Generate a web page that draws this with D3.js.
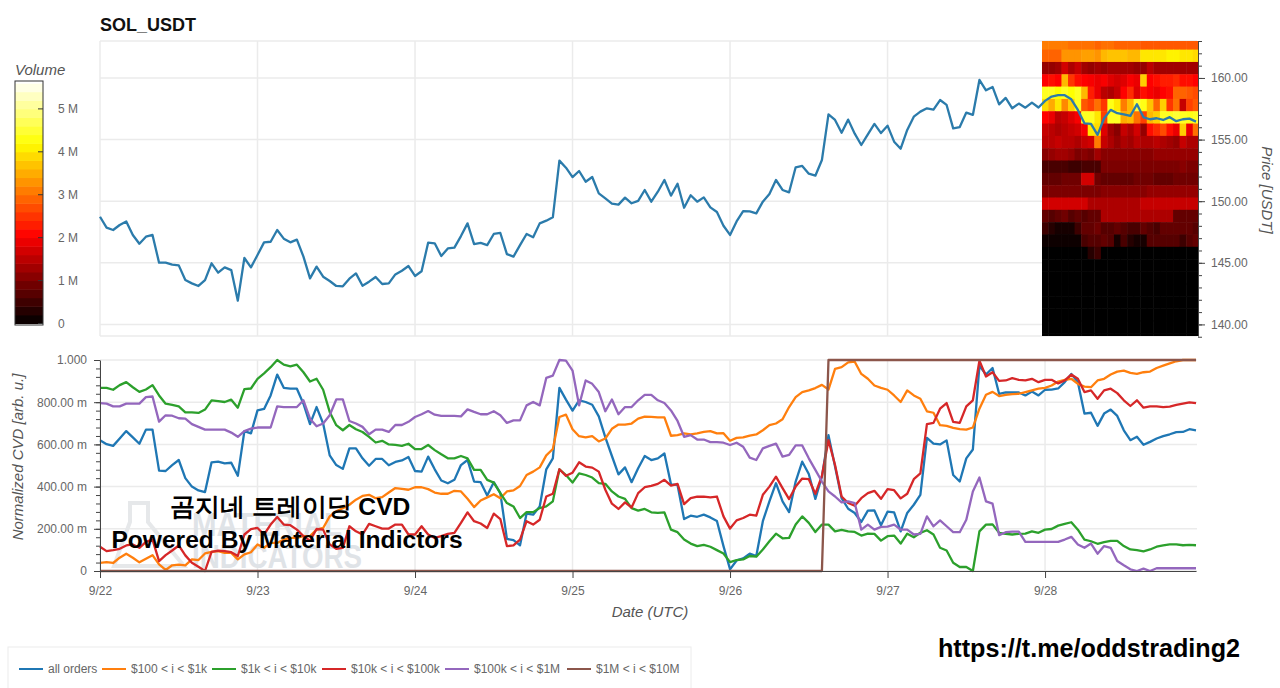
<!DOCTYPE html>
<html>
<head>
<meta charset="utf-8">
<script src="https://d3js.org/d3.v7.min.js"></script>
<style>
  html, body { margin: 0; padding: 0; background: #fff; overflow: hidden; }
  text { font-family: "Liberation Sans", Arial, sans-serif; }
  .tick text { fill: #666; font-size: 12px; font-family: "Liberation Sans", Arial, sans-serif; }
  .tick line, .domain { stroke: #444; }
  .axis-title { fill: #555; font-size: 15px; font-style: italic; }
  .grid line { stroke: #ebebeb; stroke-width: 1.5; }
</style>
</head>
<body>
<svg id="chart" width="1280" height="688"></svg>
<script>
// Hours since 9/22 00:00 UTC where each day starts
const dayHours = [0, 24, 48, 72, 96, 120, 144];
const dayLabels = ["9/22", "9/23", "9/24", "9/25", "9/26", "9/27", "9/28"];

const priceTicks = [140, 145, 150, 155, 160];
const priceMinorTicks = [139, 140, 141, 142, 143, 144, 145, 146, 147, 148, 149, 150, 151, 152, 153, 154, 155, 156, 157, 158, 159, 160, 161, 162, 163];
const cvdTicks = [0, 200, 400, 600, 800, 1000];
const cvdMinorTicks = [0, 40, 80, 120, 160, 200, 240, 280, 320, 360, 400, 440, 480, 520, 560, 600, 640, 680, 720, 760, 800, 840, 880, 920, 960, 1000];
const volumeTicks = [0, 1, 2, 3, 4, 5];

// Hourly close price
const price = [
  148.74,147.85,147.66,148.07,148.36,147.26,146.55,147.12,147.26,145.01,
  145.01,144.85,144.79,143.60,143.33,143.12,143.60,144.96,144.20,144.63,
  144.41,141.93,145.39,144.63,145.63,146.66,146.71,147.66,146.96,146.66,
  146.88,145.50,143.74,144.69,143.87,143.52,143.12,143.09,143.71,144.14,
  143.14,143.47,143.85,143.28,143.33,144.06,144.36,144.74,143.93,144.31,
  146.63,146.58,145.55,146.17,146.23,147.17,148.20,146.52,146.61,146.44,
  147.34,147.42,145.71,145.50,146.44,147.34,147.07,148.20,148.42,148.69,
  153.29,152.72,151.96,152.45,151.58,151.96,150.64,150.23,149.80,149.72,
  150.29,149.83,150.02,150.91,149.96,150.77,151.72,150.45,151.42,149.47,
  150.48,149.96,150.31,149.50,149.12,148.01,147.26,148.36,149.20,149.18,
  149.01,149.96,150.58,151.72,150.91,150.72,152.75,152.86,152.23,152.07,
  153.34,157.05,156.59,155.56,156.62,155.48,154.56,155.43,156.27,155.53,
  156.13,154.83,154.26,155.78,156.86,157.27,157.54,157.43,158.21,157.81,
  155.91,156.02,157.19,157.00,159.84,159.00,159.27,157.86,158.38,157.54,
  157.92,157.59,158.00,157.60,158.14,158.49,158.60,158.60,158.27,157.41,
  156.32,156.27,155.38,156.73,157.41,157.14,157.05,156.92,157.87,156.81,
  156.65,156.73,156.59,156.82,156.49,156.65,156.70,156.46
];

// Normalized CVD in milli units, one array per order size
const allOrders = [
  620,601,593,628,663,633,603,670,670,476,
  474,502,526,440,400,382,374,515,518,510,
  513,451,663,652,761,768,832,931,868,864,
  864,793,696,777,699,548,502,484,581,581,
  534,499,531,531,501,517,524,540,474,471,
  542,482,429,416,432,502,526,424,421,358,
  421,369,152,146,122,272,267,306,482,534,
  868,812,760,809,801,788,733,633,545,458,
  491,421,487,545,526,534,557,411,408,246,
  262,257,267,254,237,118,8,50,60,82,
  71,236,330,416,330,279,424,518,460,342,
  447,644,495,345,295,275,232,286,287,217,
  281,278,188,275,314,361,631,604,600,619,
  455,424,534,576,973,931,962,840,846,846,
  846,832,851,832,859,860,865,895,934,895,
  746,750,688,746,765,735,667,620,636,598,
  612,628,639,648,658,659,672,667
];
const orders100to1k = [
  39,42,38,63,82,63,41,58,75,31,
  5,27,30,27,55,52,83,91,94,86,
  86,55,79,89,126,110,133,133,149,157,
  157,165,165,196,204,259,283,298,314,338,
  356,361,345,350,372,393,389,385,397,397,
  388,372,366,366,380,377,342,303,334,349,
  364,345,377,382,403,455,471,491,548,578,
  730,741,672,639,633,639,614,628,674,694,
  694,699,722,732,730,728,728,641,644,652,
  648,652,659,663,652,653,617,631,633,642,
  647,667,691,699,719,777,824,848,856,867,
  882,860,958,966,989,992,934,911,879,868,
  859,832,801,856,832,816,757,750,691,688,
  678,672,670,680,769,835,849,829,835,838,
  840,848,856,864,868,879,898,906,911,887,
  874,871,903,911,931,945,950,939,934,942,
  945,962,973,984,994,1000,1000,1000
];
const orders1kto10k = [
  868,868,859,881,895,871,849,860,881,832,
  793,787,780,752,752,749,765,809,805,801,
  812,774,862,865,911,937,966,1000,978,970,
  978,942,898,911,859,754,691,667,692,672,
  659,636,609,617,600,598,593,603,578,578,
  597,573,553,534,534,545,534,479,479,432,
  419,369,322,306,251,279,279,298,306,330,
  482,455,419,463,455,443,416,413,377,353,
  342,298,286,294,278,275,278,196,184,149,
  130,118,124,115,99,83,42,52,55,71,
  68,102,141,177,155,157,220,259,228,185,
  220,220,188,195,188,185,168,177,176,144,
  165,168,130,177,160,181,193,173,110,97,
  39,19,19,0,188,220,221,181,176,173,
  176,177,188,181,196,199,215,223,231,196,
  149,141,129,137,143,143,118,102,99,93,
  102,115,121,126,126,122,124,122
];
const orders10kto100k = [
  115,94,99,105,121,126,110,138,149,47,
  75,97,121,74,39,20,0,91,97,94,
  89,71,173,199,204,173,220,256,220,217,
  196,165,144,199,196,126,105,110,212,188,
  173,223,212,201,201,220,220,173,173,212,
  173,157,165,176,181,228,278,236,225,204,
  272,246,118,121,149,236,220,243,353,366,
  482,451,466,515,495,490,471,385,319,294,
  325,301,369,397,403,413,432,405,413,317,
  345,352,352,349,353,259,201,240,251,267,
  262,361,400,447,393,341,400,438,435,366,
  451,620,502,353,322,309,345,369,380,342,
  388,383,344,366,435,463,696,702,769,796,
  707,702,780,809,997,922,942,901,903,914,
  906,903,911,895,906,906,889,903,931,911,
  848,856,816,856,864,843,809,782,809,774,
  780,780,777,779,787,793,799,796
];
const orders100kto1M = [
  796,793,780,780,793,793,793,824,827,708,
  738,736,724,722,696,683,670,670,670,670,
  656,636,663,675,680,680,680,780,777,777,
  777,809,722,686,699,738,813,813,711,699,
  683,648,670,670,659,692,692,707,730,743,
  758,741,735,735,735,733,766,754,743,743,
  757,738,702,714,714,785,801,785,915,926,
  1000,997,950,785,903,887,848,757,813,743,
  777,777,809,835,835,809,796,761,711,636,
  644,623,623,611,611,608,597,608,589,537,
  526,581,593,604,542,550,595,595,534,479,
  424,377,353,325,330,322,196,220,196,209,
  210,220,196,196,173,176,259,212,240,212,
  184,184,243,377,443,330,319,170,184,187,
  187,138,138,138,138,138,138,149,162,126,
  110,130,82,118,110,47,27,8,0,11,
  0,13,13,13,13,13,13,13
];
const orders1Mto10M = [
  0,0,0,0,0,0,0,0,0,0,
  0,0,0,0,0,0,0,0,0,0,
  0,0,0,0,0,0,0,0,0,0,
  0,0,0,0,0,0,0,0,0,0,
  0,0,0,0,0,0,0,0,0,0,
  0,0,0,0,0,0,0,0,0,0,
  0,0,0,0,0,0,0,0,0,0,
  0,0,0,0,0,0,0,0,0,0,
  0,0,0,0,0,0,0,0,0,0,
  0,0,0,0,0,0,0,0,0,0,
  0,0,0,0,0,0,0,0,0,0,
  0,1000,1000,1000,1000,1000,1000,1000,1000,1000,
  1000,1000,1000,1000,1000,1000,1000,1000,1000,1000,
  1000,1000,1000,1000,1000,1000,1000,1000,1000,1000,
  1000,1000,1000,1000,1000,1000,1000,1000,1000,1000,
  1000,1000,1000,1000,1000,1000,1000,1000,1000,1000,
  1000,1000,1000,1000,1000,1000,1000,1000
];

const cvdNames = ["all orders", "$100 < i < $1k", "$1k < i < $10k", "$10k < i < $100k", "$100k < i < $1M", "$1M < i < $10M"];
const cvdSeries = [allOrders, orders100to1k, orders1kto10k, orders10kto100k, orders100kto1M, orders1Mto10M];
const cvdColors = ["#1f77b4", "#ff7f0e", "#2ca02c", "#d62728", "#9467bd", "#8c564b"];

// Order book heatmap, volume in millions. Columns are the hours of 9/28
const heatHours = [144,145,146,147,148,149,150,151,152,153,154,155,156,157,158,159,160,161,162,163,164,165,166,167];
const heatPrices = [162.8,161.8,160.8,159.8,158.8,157.8,156.8,155.8,154.8,153.8,152.8,151.8,150.8,149.8,148.8,147.8,146.8,145.8,144.8,143.8,142.8,141.8,140.8,139.8,138.8];
const heatVolumes = [
  [3.1,3.1,3.1,3.1,3.0,3.0,3.0,3.0,2.9,3.0,3.0,2.9,2.9,2.9,2.9,2.8,2.8,2.8,2.8,2.8,2.8,2.8,2.8,2.8],
  [2.9,2.9,2.9,3.3,3.3,3.3,3.4,3.4,3.3,3.6,3.7,3.7,3.7,3.6,3.6,4.0,4.0,4.0,4.0,4.1,4.1,4.0,4.0,3.9],
  [1.2,1.2,1.3,1.7,1.4,1.6,1.3,1.2,1.3,1.2,1.3,1.3,1.3,1.3,1.2,1.2,1.5,1.3,1.3,1.3,1.3,1.3,1.3,1.3],
  [2.1,2.2,2.1,3.6,2.5,2.2,2.1,2.0,1.9,2.0,1.8,1.7,1.8,2.0,1.9,3.8,2.1,2.2,2.3,2.3,2.4,2.2,2.2,2.1],
  [4.4,4.4,4.2,4.4,4.2,4.4,3.6,2.3,1.9,1.5,1.4,1.6,2.1,2.4,1.8,2.2,2.0,1.9,2.1,2.2,2.9,2.9,2.8,2.7],
  [3.9,3.5,4.0,3.2,3.8,4.4,2.8,2.6,3.0,2.5,4.3,4.0,3.1,3.6,4.5,4.3,3.7,2.9,3.8,2.5,3.0,1.6,2.6,2.8],
  [2.1,1.9,1.5,1.6,1.8,2.0,4.4,4.4,4.0,2.6,4.4,4.4,3.5,3.6,3.0,2.6,3.6,3.8,4.4,4.4,4.5,4.4,4.3,4.4],
  [1.6,1.5,1.4,1.5,1.6,1.7,2.0,4.0,3.9,1.8,1.3,1.1,1.6,1.4,1.7,1.2,2.2,2.4,2.7,2.2,1.9,3.8,1.9,3.0],
  [1.5,1.5,1.6,1.5,1.5,1.4,1.6,1.7,3.1,1.6,1.4,1.2,1.4,1.3,1.5,1.4,1.4,1.5,1.4,1.3,1.2,1.6,1.4,1.4],
  [1.1,1.2,1.3,1.3,1.2,1.0,1.1,1.0,1.3,1.1,1.1,1.1,1.1,1.1,1.1,1.1,1.1,1.2,1.2,1.2,1.2,1.2,1.2,1.2],
  [0.6,0.6,0.6,0.6,0.5,0.5,0.6,0.6,0.6,1.0,1.0,1.0,1.0,1.0,1.0,1.0,1.0,1.0,1.0,1.0,1.0,1.1,1.0,1.0],
  [0.8,0.8,0.8,0.9,0.9,0.9,1.7,1.7,0.9,0.8,0.8,0.8,0.8,0.8,0.9,0.9,0.9,0.8,0.8,0.8,0.9,0.9,0.9,0.9],
  [1.0,1.0,1.0,1.0,1.0,1.0,1.0,1.0,1.0,1.1,1.1,1.1,1.1,1.1,1.1,1.1,1.2,1.2,1.2,1.2,1.2,1.2,1.2,1.2],
  [1.7,1.7,1.7,1.7,1.7,1.7,1.7,1.4,1.4,1.4,1.4,1.4,1.4,1.4,1.4,1.6,1.6,1.6,1.6,1.6,1.6,1.6,1.6,1.6],
  [0.8,0.7,0.8,0.9,0.7,0.8,0.7,0.8,0.8,1.4,1.4,1.4,1.4,1.4,1.4,1.4,1.4,1.4,1.4,1.4,0.8,0.8,0.8,0.8],
  [0.5,0.3,0.2,0.2,0.2,0.5,0.8,0.8,0.9,0.7,0.7,0.8,0.7,0.6,0.6,0.8,0.7,0.6,0.8,0.8,0.8,0.8,0.8,0.7],
  [0.1,0.1,0.1,0.1,0.1,0.1,0.6,0.7,0.7,0.8,0.7,0.2,0.6,0.3,0.2,0.2,0.7,0.7,0.7,0.7,0.7,0.5,0.7,0.8],
  [0.05,0.05,0.05,0.05,0.05,0.05,0.05,0.3,0.5,0.05,0.05,0.05,0.05,0.05,0.05,0.05,0.05,0.05,0.05,0.05,0.05,0.05,0.05,0.05],
  [0.04,0.04,0.04,0.04,0.04,0.04,0.04,0.04,0.04,0.04,0.04,0.04,0.04,0.04,0.04,0.04,0.04,0.04,0.04,0.04,0.04,0.04,0.04,0.04],
  [0.04,0.04,0.04,0.04,0.04,0.04,0.04,0.04,0.04,0.04,0.04,0.04,0.04,0.04,0.04,0.04,0.04,0.04,0.04,0.04,0.04,0.04,0.04,0.04],
  [0.03,0.03,0.03,0.03,0.03,0.03,0.03,0.03,0.03,0.03,0.03,0.03,0.03,0.03,0.03,0.03,0.03,0.03,0.03,0.03,0.03,0.03,0.03,0.03],
  [0.03,0.03,0.03,0.03,0.03,0.03,0.03,0.03,0.03,0.03,0.03,0.03,0.03,0.03,0.03,0.03,0.03,0.03,0.03,0.03,0.03,0.03,0.03,0.03],
  [0.02,0.02,0.02,0.02,0.02,0.02,0.02,0.02,0.02,0.02,0.02,0.02,0.02,0.02,0.02,0.02,0.02,0.02,0.02,0.02,0.02,0.02,0.02,0.02],
  [0.02,0.02,0.02,0.02,0.02,0.02,0.02,0.02,0.02,0.02,0.02,0.02,0.02,0.02,0.02,0.02,0.02,0.02,0.02,0.02,0.02,0.02,0.02,0.02],
  [0.02,0.02,0.02,0.02,0.02,0.02,0.02,0.02,0.02,0.02,0.02,0.02,0.02,0.02,0.02,0.02,0.02,0.02,0.02,0.02,0.02,0.02,0.02,0.02]
];

const svg = d3.select("#chart");

// Shared scales
const x = d3.scaleLinear().domain([0, 167]).range([100, 1196]);
const yPrice = d3.scaleLinear().domain([139.06, 163]).range([336, 41]);
const yCvd = d3.scaleLinear().domain([0, 1000]).range([571, 360]);
const yVolume = d3.scaleLinear().domain([0, 5.65]).range([323.5, 81]);
const heatColor = d3.scaleLinear()
  .domain([0, 2.06, 4.2, 5.65])
  .range(["#000000", "#ff0000", "#ffff00", "#ffffff"]);

svg.append("text")
  .attr("x", 100).attr("y", 31)
  .attr("font-size", 18).attr("font-weight", "bold").attr("fill", "#111")
  .text("SOL_USDT");

const defs = svg.append("defs");
defs.append("clipPath").attr("id", "priceClip")
  .append("rect").attr("x", 1042).attr("y", 41).attr("width", 156).attr("height", 295);
defs.append("filter").attr("id", "soften")
  .attr("x", "-5%").attr("y", "-5%").attr("width", "110%").attr("height", "110%")
  .append("feGaussianBlur").attr("stdDeviation", 0.7);

// Draw the grid lines of one panel
function drawGrid(yScale, ticks, top, bottom, extraRows) {
  const grid = svg.append("g").attr("class", "grid");
  grid.selectAll(".v").data(dayHours).join("line")
    .attr("class", "v")
    .attr("x1", d => x(d)).attr("x2", d => x(d))
    .attr("y1", top).attr("y2", bottom);
  grid.selectAll(".h").data(ticks).join("line")
    .attr("class", "h")
    .attr("x1", 100).attr("x2", 1197)
    .attr("y1", d => yScale(d)).attr("y2", d => yScale(d));
  grid.selectAll(".e").data(extraRows).join("line")
    .attr("class", "e")
    .attr("x1", 100).attr("x2", 1197)
    .attr("y1", d => yScale(d)).attr("y2", d => yScale(d));
}

drawGrid(yPrice, priceTicks, 41, 336, [139.06, 163]);
drawGrid(yCvd, cvdTicks, 360, 571, []);

// Heatmap
const heatGroup = svg.append("g").attr("clip-path", "url(#priceClip)")
  .append("g").attr("filter", "url(#soften)");
heatPrices.forEach((p, row) => {
  heatGroup.selectAll(null).data(heatVolumes[row]).join("rect")
    .attr("x", (d, col) => x(heatHours[col] - 0.5))
    .attr("y", yPrice(p + 0.5))
    .attr("width", x(1) - x(0) + 0.5)
    .attr("height", yPrice(p - 0.5) - yPrice(p + 0.5) + 0.5)
    .attr("fill", d => heatColor(d));
});

// Price line
const priceLine = d3.line().x((d, i) => x(i)).y(d => yPrice(d));
svg.append("path")
  .datum(price)
  .attr("fill", "none").attr("stroke", "#2b7bab").attr("stroke-width", 2.3)
  .attr("stroke-linejoin", "round")
  .attr("d", priceLine);

// Price axis on the right
svg.append("g")
  .attr("transform", "translate(1198,0)")
  .call(d3.axisRight(yPrice).tickValues(priceMinorTicks).tickSize(4).tickFormat(""))
  .call(g => g.select(".domain").remove());
svg.append("g")
  .attr("transform", "translate(1198,0)")
  .call(d3.axisRight(yPrice).tickValues(priceTicks).tickSize(7).tickSizeOuter(0).tickPadding(6).tickFormat(d => d.toFixed(2)));

svg.append("text")
  .attr("class", "axis-title")
  .attr("transform", "translate(1262,190) rotate(90)")
  .attr("text-anchor", "middle")
  .text("Price [USDT]");

// Colour bar
const barSteps = d3.range(0, 5.65, 0.2);
svg.append("g").selectAll("rect").data(barSteps).join("rect")
  .attr("x", 15).attr("width", 28)
  .attr("y", d => yVolume(d + 0.2))
  .attr("height", d => yVolume(d) - yVolume(d + 0.2) + 0.5)
  .attr("fill", d => heatColor(d + 0.1));
svg.append("rect")
  .attr("x", 15).attr("y", 81).attr("width", 28).attr("height", 244)
  .attr("fill", "none").attr("stroke", "#333").attr("stroke-width", 1);
svg.append("g").selectAll("line").data(volumeTicks).join("line")
  .attr("x1", 38).attr("x2", 43)
  .attr("y1", d => yVolume(d)).attr("y2", d => yVolume(d))
  .attr("stroke", "#333");
svg.append("g").selectAll("text").data(volumeTicks).join("text")
  .attr("x", 58)
  .attr("y", d => yVolume(d))
  .attr("dy", "0.35em")
  .attr("font-size", 12).attr("fill", "#666")
  .text(d => d === 0 ? "0" : d + " M");
svg.append("text")
  .attr("class", "axis-title")
  .attr("x", 15).attr("y", 75)
  .text("Volume");

// Watermark behind the CVD lines
const watermark = svg.append("g").attr("fill", "#dfe3e7").attr("font-weight", "bold");
watermark.append("path")
  .attr("d", "M130,503 H148 V522 L184,566 H114 L130,522 Z")
  .attr("fill", "none").attr("stroke", "#e6e8ea").attr("stroke-width", 4);
watermark.append("text")
  .attr("x", 192).attr("y", 536).attr("font-size", 34)
  .attr("textLength", 150).attr("lengthAdjust", "spacingAndGlyphs")
  .text("MATERIAL");
watermark.append("text")
  .attr("x", 192).attr("y", 568).attr("font-size", 34)
  .attr("textLength", 170).attr("lengthAdjust", "spacingAndGlyphs")
  .text("INDICATORS");

// CVD lines
const cvdLine = d3.line().x((d, i) => x(i)).y(d => yCvd(d));
svg.append("g").selectAll("path").data(cvdSeries).join("path")
  .attr("fill", "none")
  .attr("stroke", (d, i) => cvdColors[i])
  .attr("stroke-width", 2.3)
  .attr("stroke-linejoin", "round")
  .attr("d", cvdLine);

// CVD axes
svg.append("g")
  .attr("transform", "translate(100,0)")
  .call(d3.axisLeft(yCvd).tickValues(cvdMinorTicks).tickSize(4).tickFormat(""))
  .call(g => g.select(".domain").remove());
svg.append("g")
  .attr("transform", "translate(100,0)")
  .call(d3.axisLeft(yCvd).tickValues(cvdTicks).tickSize(6).tickSizeOuter(0).tickPadding(7)
    .tickFormat(d => d === 0 ? "0" : d === 1000 ? "1.000" : d.toFixed(2) + " m"));
svg.append("g")
  .attr("transform", "translate(0,571)")
  .call(d3.axisBottom(x).tickValues(dayHours).tickSize(7).tickSizeOuter(0).tickPadding(8)
    .tickFormat((d, i) => dayLabels[i]));

svg.append("text")
  .attr("class", "axis-title")
  .attr("x", 650).attr("y", 617)
  .attr("text-anchor", "middle")
  .text("Date (UTC)");
svg.append("text")
  .attr("class", "axis-title")
  .attr("transform", "translate(23,457) rotate(-90)")
  .attr("text-anchor", "middle")
  .text("Normalized CVD [arb. u.]");

// Overlaid captions
const captionFont = '"Noto Sans CJK KR", "Noto Sans", sans-serif';
function caption(text, cx, baseline, size) {
  svg.append("text")
    .attr("x", cx).attr("y", baseline)
    .attr("text-anchor", "middle")
    .attr("font-family", captionFont).attr("font-weight", 700).attr("font-size", size).attr("fill", "#000")
    .text(text);
}
caption("곰지네 트레이딩 CVD", 290, 515, 24.6);
caption("Powered By Material Indictors", 287, 548, 24.6);
caption("https://t.me/oddstrading2", 1089, 657, 25.2);

// Legend
const legendStarts = [19, 102, 212, 322, 445, 567];
svg.append("rect")
  .attr("x", 8).attr("y", 647).attr("width", 683).attr("height", 50)
  .attr("fill", "#fff").attr("stroke", "#ececec");
const legendItems = svg.append("g").selectAll("g").data(cvdNames).join("g")
  .attr("transform", (d, i) => `translate(${legendStarts[i]},669)`);
legendItems.append("line")
  .attr("x1", 0).attr("x2", 24)
  .attr("stroke", (d, i) => cvdColors[i]).attr("stroke-width", 2);
legendItems.append("text")
  .attr("x", 29).attr("dy", "0.35em")
  .attr("font-size", 12).attr("fill", "#666")
  .text(d => d);
</script>
</body>
</html>
